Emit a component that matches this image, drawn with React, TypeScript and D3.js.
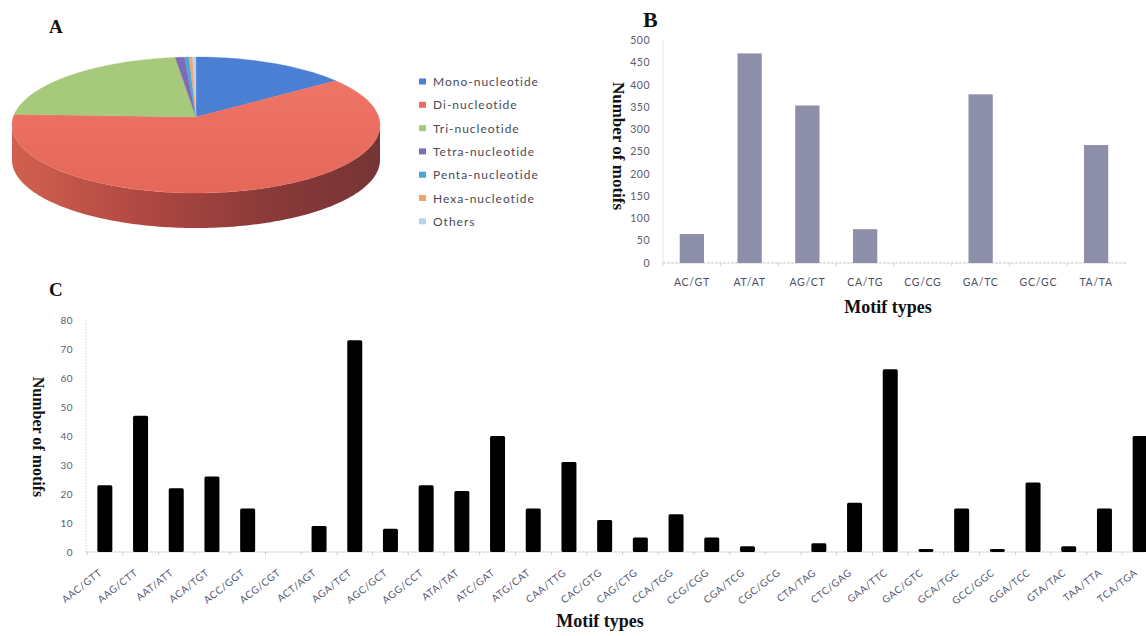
import React, { useEffect } from "react";
import * as d3 from "d3";

// ---------- Data ----------
const pieLabels = ["Mono-nucleotide", "Di-nucleotide", "Tri-nucleotide", "Tetra-nucleotide", "Penta-nucleotide", "Hexa-nucleotide", "Others"];
const pieValues = [13.7, 63.8, 20.7, 0.8, 0.4, 0.3, 0.3];
const pieColors = ["#4a7fd4", "#e86d60", "#a6c97c", "#7e6ab6", "#4aa6d6", "#f3a46c", "#b7d3ee"];

const diCategories = ["AC/GT", "AT/AT", "AG/CT", "CA/TG", "CG/CG", "GA/TC", "GC/GC", "TA/TA"];
const diValues = [65, 471, 354, 76, 0, 379, 0, 265];
const diTicks = [0, 50, 100, 150, 200, 250, 300, 350, 400, 450, 500];

const triCategories = [
  "AAC/GTT", "AAG/CTT", "AAT/ATT", "ACA/TGT", "ACC/GGT", "ACG/CGT", "ACT/AGT", "AGA/TCT",
  "AGC/GCT", "AGG/CCT", "ATA/TAT", "ATC/GAT", "ATG/CAT", "CAA/TTG", "CAC/GTG", "CAG/CTG",
  "CCA/TGG", "CCG/CGG", "CGA/TCG", "CGC/GCG", "CTA/TAG", "CTC/GAG", "GAA/TTC", "GAC/GTC",
  "GCA/TGC", "GCC/GGC", "GGA/TCC", "GTA/TAC", "TAA/TTA", "TCA/TGA",
];
const triValues = [23, 47, 22, 26, 15, 0, 9, 73, 8, 23, 21, 40, 15, 31, 11, 5, 13, 5, 2, 0, 3, 17, 63, 1, 15, 1, 24, 2, 15, 40];
const triTicks = [0, 10, 20, 30, 40, 50, 60, 70, 80];

const serif = "'Liberation Serif', 'DejaVu Serif', serif";
const sans = "Lato, 'Open Sans', sans-serif";

// ---------- Pie (3D-looking) ----------
function Pie3D() {
  const cx = 196, cy = 125, rx = 184, ry = 68, depth = 35;
  const pt = (a: number, dy = 0): [number, number] => [cx + rx * Math.sin(a), cy - ry * Math.cos(a) + dy];
  const arcs = d3.pie<number>().sort(null).startAngle(0).endAngle(2 * Math.PI)(pieValues);

  const sample = (s: number, e: number) => {
    const n = Math.max(2, Math.ceil((e - s) / 0.02));
    return d3.range(n + 1).map((i) => s + ((e - s) * i) / n);
  };

  const tops = arcs.map((a, i) => {
    const pts = sample(a.startAngle, a.endAngle).map((t) => pt(t));
    const d = `M${cx},${cy - 8}L` + pts.map((p) => p.join(",")).join("L") + "Z";
    return <path key={"t" + i} d={d} fill={i === 1 ? "url(#redTop)" : pieColors[i]} stroke={pieColors[i]} strokeWidth={0.3} />;
  });

  const sides = arcs.map((a, i) => {
    const s = Math.max(a.startAngle, Math.PI / 2);
    const e = Math.min(a.endAngle, (3 * Math.PI) / 2);
    if (e <= s) return null;
    const ang = sample(s, e);
    const top = ang.map((t) => pt(t));
    const bot = ang.slice().reverse().map((t) => pt(t, depth));
    const d = "M" + top.concat(bot).map((p) => p.join(",")).join("L") + "Z";
    return <path key={"s" + i} d={d} fill="url(#redSide)" />;
  });

  return (
    <g>
      <defs>
        <linearGradient id="redSide" x1="0" x2="1" y1="0" y2="0">
          <stop offset="0" stopColor="#d2604f" />
          <stop offset="0.35" stopColor="#b04842" />
          <stop offset="0.7" stopColor="#8a3a39" />
          <stop offset="1" stopColor="#763434" />
        </linearGradient>
        <linearGradient id="redTop" x1="0" x2="0" y1="0" y2="1">
          <stop offset="0" stopColor="#ee7466" />
          <stop offset="1" stopColor="#e4675a" />
        </linearGradient>
      </defs>
      {sides}
      {tops}
    </g>
  );
}

function Legend() {
  const x0 = 419, y0 = 82, step = 23.3;
  return (
    <g>
      {pieLabels.map((l, i) => (
        <g key={l} transform={`translate(${x0},${y0 + i * step})`}>
          <rect x={0} y={-3.5} width={7} height={6} fill={pieColors[i]} />
          <text x={14} y={4} fontFamily={sans} fontSize={12} letterSpacing={1} fill="#4a4a55">
            {l}
          </text>
        </g>
      ))}
    </g>
  );
}

// ---------- Bar chart B ----------
function ChartB() {
  const x = d3.scaleBand<string>().domain(diCategories).range([663, 1125]).paddingInner(0.58).paddingOuter(0.29);
  const y = d3.scaleLinear().domain([0, 500]).range([263, 40.5]);
  const step = x.step();
  return (
    <g>
      <line x1={663} x2={663} y1={y(500)} y2={y(0)} stroke="#d8d8d8" strokeDasharray="2,1" />
      <line x1={663} x2={1127} y1={y(0)} y2={y(0)} stroke="#c8c8c8" strokeDasharray="3,1" />
      {diCategories.map((c, i) => (
        <line key={"tk" + i} x1={663 + step * i} x2={663 + step * i} y1={y(0)} y2={y(0) + 3} stroke="#ccc" />
      ))}
      {diTicks.map((t) => (
        <text key={t} x={650} y={y(t) + 3.5} textAnchor="end" fontFamily={sans} fontSize={10.5} fill="#5c5c6a" letterSpacing={0.5}>
          {t}
        </text>
      ))}
      {diCategories.map((c, i) => (
        <rect key={c} x={x(c)!} width={x.bandwidth()} y={y(diValues[i])} height={y(0) - y(diValues[i])} fill="#8d8ea7" />
      ))}
      {diCategories.map((c) => (
        <text key={"l" + c} x={x(c)! + x.bandwidth() / 2} y={286} textAnchor="middle" fontFamily={sans} fontSize={10.5} letterSpacing={0.7} fill="#4d4d60">
          {c}
        </text>
      ))}
      <text x={888} y={313} textAnchor="middle" fontFamily={serif} fontWeight="bold" fontSize={18} fill="#111">
        Motif types
      </text>
      <text transform="translate(613,146) rotate(90)" textAnchor="middle" fontFamily={serif} fontWeight="bold" fontSize={17} fill="#111">
        Number of motifs
      </text>
      <text x={643} y={27} fontFamily={serif} fontWeight="bold" fontSize={22} fill="#111">
        B
      </text>
    </g>
  );
}

// ---------- Bar chart C ----------
function ChartC() {
  const x = d3.scaleBand<string>().domain(triCategories).range([87, 1158]).paddingInner(0.58).paddingOuter(0.29);
  const y = d3.scaleLinear().domain([0, 80]).range([552, 320]);
  const step = x.step();
  return (
    <g>
      <line x1={86} x2={86} y1={y(80)} y2={y(0)} stroke="#dcdcdc" strokeDasharray="2,1" />
      <line x1={86} x2={1146} y1={y(0)} y2={y(0)} stroke="#c8c8c8" strokeDasharray="3,1" />
      {triCategories.map((c, i) => (
        <line key={"tk" + i} x1={87 + step * i} x2={87 + step * i} y1={y(0)} y2={y(0) + 3} stroke="#ccc" />
      ))}
      {triTicks.map((t) => (
        <text key={t} x={73} y={y(t) + 3.5} textAnchor="end" fontFamily={sans} fontSize={10} fill="#5c5c6a" letterSpacing={0.5}>
          {t}
        </text>
      ))}
      {triCategories.map((c, i) => (
        <rect key={c} x={x(c)!} width={x.bandwidth()} y={y(triValues[i])} height={y(0) - y(triValues[i])} rx={1.5} fill="#000" />
      ))}
      {triCategories.map((c) => {
        const cxp = x(c)! + x.bandwidth() / 2 - 2;
        return (
          <text key={"l" + c} transform={`translate(${cxp},${574}) rotate(-38)`} textAnchor="end" fontFamily={sans} fontSize={10} letterSpacing={0.6} fill="#555a72">
            {c}
          </text>
        );
      })}
      <text x={600} y={627} textAnchor="middle" fontFamily={serif} fontWeight="bold" fontSize={18} fill="#111">
        Motif types
      </text>
      <text transform="translate(33,437) rotate(90)" textAnchor="middle" fontFamily={serif} fontWeight="bold" fontSize={16} fill="#111">
        Number of motifs
      </text>
      <text x={49} y={296} fontFamily={serif} fontWeight="bold" fontSize={19} fill="#111">
        C
      </text>
    </g>
  );
}

export default function App() {
  useEffect(() => {
    document.body.style.margin = "0";
  }, []);
  return (
    <svg width={1146} height={636} style={{ position: "absolute", left: 0, top: 0, background: "#fff" }}>
      <rect width={1146} height={636} fill="#fff" />
      <text x={49} y={33} fontFamily={serif} fontWeight="bold" fontSize={19} fill="#111">
        A
      </text>
      <Pie3D />
      <Legend />
      <ChartB />
      <ChartC />
    </svg>
  );
}
